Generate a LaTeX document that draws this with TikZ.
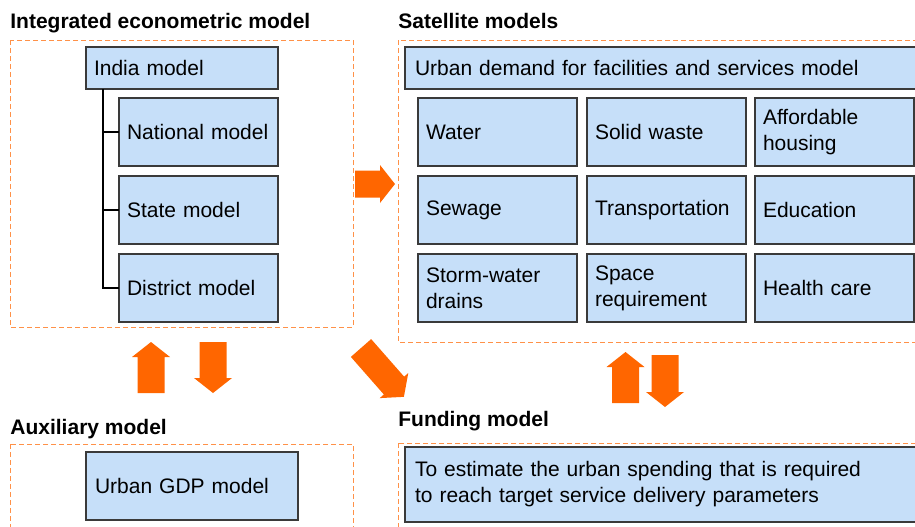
\documentclass[tikz,border=0pt]{standalone}
\usepackage{fontspec}
\setmainfont{Liberation Sans}
\usetikzlibrary{positioning,shadows}
\definecolor{mdlblue}{HTML}{C6DFF9}
\definecolor{mdledge}{HTML}{3A3A3A}
\definecolor{mdlorange}{HTML}{FF6600}
\definecolor{mdldash}{HTML}{FF9148}
\tikzset{
  box/.style={draw=mdledge, fill=mdlblue, anchor=north west, align=left,
              inner xsep=4.5pt, inner ysep=0pt, outer sep=0pt, line width=0.6pt,
              font=\fontsize{10.5}{13}\selectfont,
              drop shadow={shadow xshift=0.4pt, shadow yshift=-0.4pt, opacity=0.3}},
  cell/.style={box, inner xsep=4pt, text width=71.5pt, minimum height=34pt},
  wide/.style={box, inner xsep=5pt, text width=270pt},
  frame/.style={draw=mdldash, line width=0.5pt, dash pattern=on 2.5pt off 1.5pt},
  title/.style={anchor=base west, inner sep=0pt, font=\fontsize{10.5}{13}\selectfont\bfseries},
  tree/.style={line width=1pt, draw=black},
  pics/blockarrow/.style={code={
    \fill[mdlorange] (0,-6.75) -- ({#1-7.5},-6.75) -- ({#1-7.5},-9.5) -- (#1,0)
      -- ({#1-7.5},9.5) -- ({#1-7.5},6.75) -- (0,6.75) -- cycle;}},
}
\begin{document}
\begin{tikzpicture}[x=1pt, y=1pt]
  \clip (0,0) rectangle (457.5,-263);
  % frames and headings
  \draw[frame] (5,-20) rectangle (176.5,-163.5);
  \draw[frame] (199,-20) rectangle (480,-171);
  \draw[frame] (5,-222) rectangle (176.5,-290);
  \draw[frame] (199,-221.5) rectangle (480,-290);
  \node[title] (tint) at (5,-14)    {Integrated econometric model};
  \node[title] (tsat) at (199,-14)  {Satellite models};
  \node[title] (taux) at (5,-217)   {Auxiliary model};
  \node[title] (tfun) at (199,-213) {Funding model};
  % integrated econometric model
  \node[box, inner xsep=4pt, text width=88pt, minimum height=21pt] (india) at (43,-23.5) {India model};
  \node[cell, below left=4.5pt and 0pt of india.south east] (nat)  {National model};
  \node[cell, below=5pt of nat]   (state) {State model};
  \node[cell, below=5pt of state] (dist)  {District model};
  \coordinate (trunk) at ([xshift=8.5pt]india.south west);
  \draw[tree] (trunk) |- (dist.west);
  \draw[tree] (trunk |- nat.west) -- (nat.west);
  \draw[tree] (trunk |- state.west) -- (state.west);
  % satellite models
  \node[wide, minimum height=21pt] (demand) at (202.5,-23.5) {Urban demand for facilities and services model};
  \node[cell] (water) at (209,-49) {Water};
  \node[cell, right=5pt of water]   (waste)   {Solid waste};
  \node[cell, right=4.5pt of waste] (housing) {Affordable\\housing};
  \node[cell, below=5pt of water]   (sewage)  {Sewage};
  \node[cell, below=5pt of waste]   (trans)   {Transportation};
  \node[cell, below=5pt of housing] (edu)     {Education};
  \node[cell, below=5pt of sewage]  (storm)   {Storm-water\\drains};
  \node[cell, below=5pt of trans]   (space)   {Space\\requirement};
  \node[cell, below=5pt of edu]     (health)  {Health care};
  % auxiliary and funding models
  \node[box, text width=97pt, minimum height=34pt] (gdp) at (43,-226) {Urban GDP model};
  \node[wide, minimum height=37.5pt] (spend) at (202.5,-223.5)
    {To estimate the urban spending that is required\\to reach target service delivery parameters};
  % block arrows
  \pic at (177.5,-92) {blockarrow=20};
  \pic[rotate=90]  at (75.5,-196.5)  {blockarrow=25.5};
  \pic[rotate=-90] at (106.5,-171)   {blockarrow=25.5};
  \pic[rotate=-48.7] at (180.5,-174) {blockarrow=32.5};
  \pic[rotate=90]  at (312.75,-201.5) {blockarrow=25.5};
  \pic[rotate=-90] at (332.5,-177.5)  {blockarrow=26};
\end{tikzpicture}
\end{document}
